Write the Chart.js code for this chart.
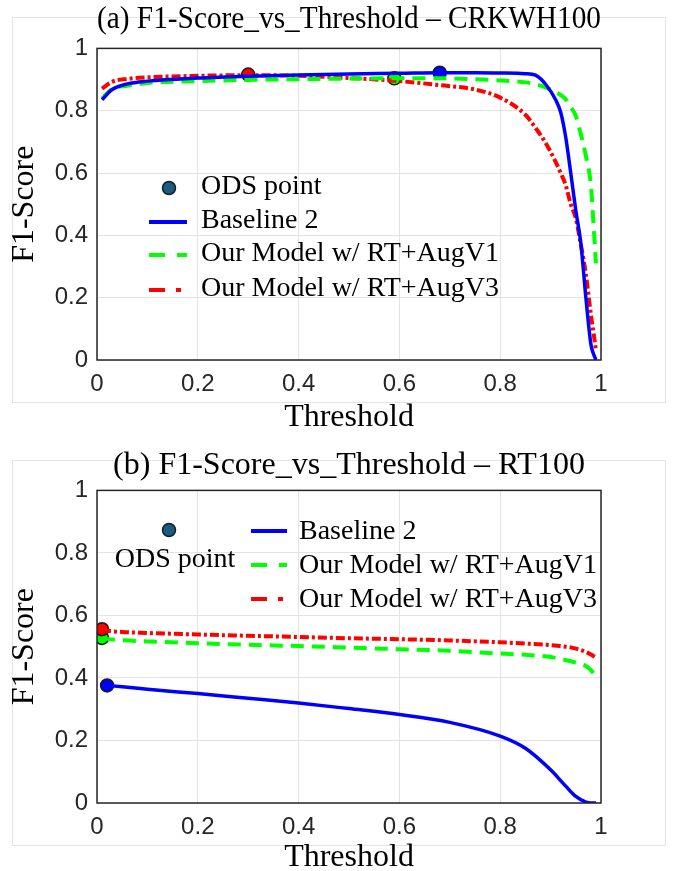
<!DOCTYPE html>
<html>
<head>
<meta charset="utf-8">
<script src="https://cdn.jsdelivr.net/npm/chart.js@4.4.1/dist/chart.umd.min.js"></script>
<style>
  body { margin: 0; background: #fff; width: 678px; height: 871px; overflow: hidden; position: relative; }
  .frame { position: absolute; left: 12px; width: 654px; height: 386px; border: 1px solid #e4e4e4; box-sizing: border-box; }
  canvas { position: absolute; left: 0; }
</style>
</head>
<body>
<div class="frame" style="top:17px"></div>
<div class="frame" style="top:460px"></div>
<canvas id="chartA" width="678" height="440" style="top:0"></canvas>
<canvas id="chartB" width="678" height="440" style="top:440px"></canvas>
<script>
// --- (a) CRKWH100 ---
const thrA   = [0.01, 0.03, 0.06, 0.1, 0.2, 0.3, 0.4, 0.5, 0.6, 0.68, 0.75, 0.8, 0.85, 0.87, 0.89, 0.91, 0.92, 0.93, 0.94, 0.95, 0.96, 0.97, 0.98, 0.985, 0.99];
const baseA  = [0.835, 0.868, 0.886, 0.895, 0.905, 0.911, 0.915, 0.918, 0.920, 0.922, 0.922, 0.921, 0.919, 0.914, 0.885, 0.835, 0.795, 0.715, 0.600, 0.480, 0.375, 0.200, 0.050, 0.020, 0.0];
const augV1A = [0.839, 0.870, 0.880, 0.889, 0.895, 0.899, 0.901, 0.903, 0.904, 0.904, 0.901, 0.897, 0.891, 0.885, 0.875, 0.860, 0.850, 0.837, 0.812, 0.783, 0.725, 0.655, 0.560, 0.440, 0.310];
const augV3A = [0.871, 0.893, 0.902, 0.907, 0.912, 0.914, 0.912, 0.905, 0.895, 0.882, 0.868, 0.842, 0.787, 0.745, 0.697, 0.636, 0.600, 0.561, 0.500, 0.455, 0.370, 0.275, 0.145, 0.090, 0.030];
const odsXA  = [0.68, 0.59, 0.30];
const odsYA  = [0.922, 0.904, 0.916];

// --- (b) RT100 ---
const thrB   = [0.01, 0.02, 0.05, 0.1, 0.2, 0.3, 0.4, 0.5, 0.6, 0.7, 0.8, 0.85, 0.9, 0.93, 0.95, 0.97, 0.98, 0.99];
const baseB  = [null, 0.376, 0.372, 0.364, 0.350, 0.335, 0.320, 0.302, 0.283, 0.258, 0.214, 0.175, 0.106, 0.054, 0.021, 0.003, 0.0, 0.0];
const augV1B = [0.528, 0.525, 0.521, 0.517, 0.511, 0.506, 0.502, 0.497, 0.492, 0.487, 0.478, 0.474, 0.467, 0.457, 0.449, 0.438, 0.425, 0.404];
const augV3B = [0.553, 0.551, 0.547, 0.544, 0.539, 0.535, 0.531, 0.527, 0.524, 0.520, 0.514, 0.510, 0.505, 0.500, 0.494, 0.483, 0.475, 0.465];
const odsXB  = [0.02, 0.01, 0.01];
const odsYB  = [0.376, 0.528, 0.556];

const xTicks = [0, 0.2, 0.4, 0.6, 0.8, 1];
const yTicks = [0, 0.2, 0.4, 0.6, 0.8, 1];
const seriesNames = ['Baseline 2', 'Our Model w/ RT+AugV1', 'Our Model w/ RT+AugV3'];
const seriesColors = ['#0000ff', '#00ff00', '#ff0000'];
const seriesDash = [[], [13, 8], [9, 3, 3, 3]];
const legendDash = [[], [16, 12], [16, 11, 5, 11]];
const seriesWidth = [3.5, 4, 4];

const serif = '"Liberation Serif", "Times New Roman", serif';
const sans = '"Liberation Sans", Arial, sans-serif';

function toPoints(xs, ys) {
    const pts = [];
    xs.forEach((x, i) => { if (ys[i] !== null) pts.push({ x: x, y: ys[i] }); });
    return pts;
}

// MATLAB style box around the axes
const axesBox = {
    id: 'axesBox',
    afterDatasetsDraw(chart) {
        const { ctx, chartArea: a } = chart;
        ctx.save();
        ctx.strokeStyle = '#262626';
        ctx.lineWidth = 1.5;
        ctx.strokeRect(a.left, a.top, a.right - a.left, a.bottom - a.top);
        ctx.restore();
    }
};

// legend drawn inside the axes, like the original
const odsLegend = {
    id: 'odsLegend',
    afterDraw(chart, args, opts) {
        const ctx = chart.ctx;
        ctx.save();
        ctx.beginPath();
        ctx.arc(opts.marker.x, opts.marker.y, 6.5, 0, Math.PI * 2);
        ctx.fillStyle = '#1b5b7e';
        ctx.fill();
        ctx.lineWidth = 1.5;
        ctx.strokeStyle = '#10212b';
        ctx.stroke();

        ctx.font = '28px ' + serif;
        ctx.fillStyle = '#000';
        ctx.textBaseline = 'middle';
        ctx.textAlign = opts.odsText.align;
        ctx.fillText('ODS point', opts.odsText.x, opts.odsText.y);

        ctx.textAlign = 'left';
        seriesNames.forEach((name, i) => {
            const y = opts.rowY[i];
            ctx.beginPath();
            ctx.setLineDash(legendDash[i]);
            ctx.strokeStyle = seriesColors[i];
            ctx.lineWidth = 4;
            ctx.moveTo(opts.x1, y);
            ctx.lineTo(opts.x2, y);
            ctx.stroke();
            ctx.setLineDash([]);
            ctx.fillText(name, opts.textX, y + opts.textDy);
        });
        ctx.restore();
    }
};

function makeChart(id, title, thr, lines, odsX, odsY, layoutTop, titleGap, xHeight, legendOpts) {
    const datasets = lines.map((vals, i) => ({
        type: 'line',
        label: seriesNames[i],
        data: toPoints(thr, vals),
        borderColor: seriesColors[i],
        borderWidth: seriesWidth[i],
        borderDash: seriesDash[i],
        pointRadius: 0,
        cubicInterpolationMode: 'monotone',
        fill: false
    }));
    datasets.push({
        type: 'scatter',
        label: 'ODS point',
        data: toPoints(odsX, odsY),
        pointRadius: 6.5,
        pointBackgroundColor: seriesColors,
        pointBorderColor: '#1a1a1a',
        pointBorderWidth: 1.5
    });

    const tickFont = { family: sans, size: 24 };
    return new Chart(document.getElementById(id), {
        data: { datasets: datasets },
        options: {
            responsive: false,
            animation: false,
            layout: { padding: { left: 0, right: 77, top: layoutTop, bottom: 0 } },
            plugins: {
                legend: { display: false },
                tooltip: { enabled: false },
                title: {
                    display: true, text: title, fullSize: false, color: '#000',
                    font: { family: serif, size: 32, weight: 'normal', lineHeight: 1.2 },
                    padding: { top: 0, bottom: titleGap }
                },
                odsLegend: legendOpts
            },
            scales: {
                x: {
                    type: 'linear', min: 0, max: 1,
                    afterBuildTicks: s => { s.ticks = xTicks.map(v => ({ value: v })); },
                    ticks: { padding: 10, color: '#262626', font: tickFont, callback: v => String(v) },
                    grid: { color: '#e3e3e3', drawTicks: false },
                    border: { display: false },
                    title: { display: true, text: 'Threshold', color: '#000',
                        font: { family: serif, size: 32, lineHeight: 1.2 }, padding: { top: 0, bottom: 3 } },
                    afterFit: s => { s.height = xHeight; }
                },
                y: {
                    type: 'linear', min: 0, max: 1,
                    afterBuildTicks: s => { s.ticks = yTicks.map(v => ({ value: v })); },
                    ticks: { padding: 9, color: '#262626', font: tickFont, callback: v => String(v) },
                    grid: { color: '#e3e3e3', drawTicks: false },
                    border: { display: false },
                    title: { display: true, text: 'F1-Score', color: '#000',
                        font: { family: serif, size: 32, lineHeight: 1.2 }, padding: { top: 5, bottom: 0 } },
                    afterFit: s => { s.width = 97; }
                }
            }
        },
        plugins: [axesBox, odsLegend]
    });
}

makeChart('chartA', '(a) F1-Score_vs_Threshold \u2013 CRKWH100', thrA, [baseA, augV1A, augV3A], odsXA, odsYA, 0, 10, 80, {
    marker: { x: 169, y: 188 },
    odsText: { x: 201, y: 187, align: 'left' },
    rowY: [222, 255, 290], x1: 149, x2: 187, textX: 201, textDy: -1
});

makeChart('chartB', '(b) F1-Score_vs_Threshold \u2013 RT100', thrB, [baseB, augV1B, augV3B], odsXB, odsYB, 6, 6, 77, {
    marker: { x: 169, y: 90 },
    odsText: { x: 175, y: 120, align: 'center' },
    rowY: [91, 125, 159], x1: 251, x2: 287, textX: 299, textDy: 1
});
</script>
</body>
</html>
